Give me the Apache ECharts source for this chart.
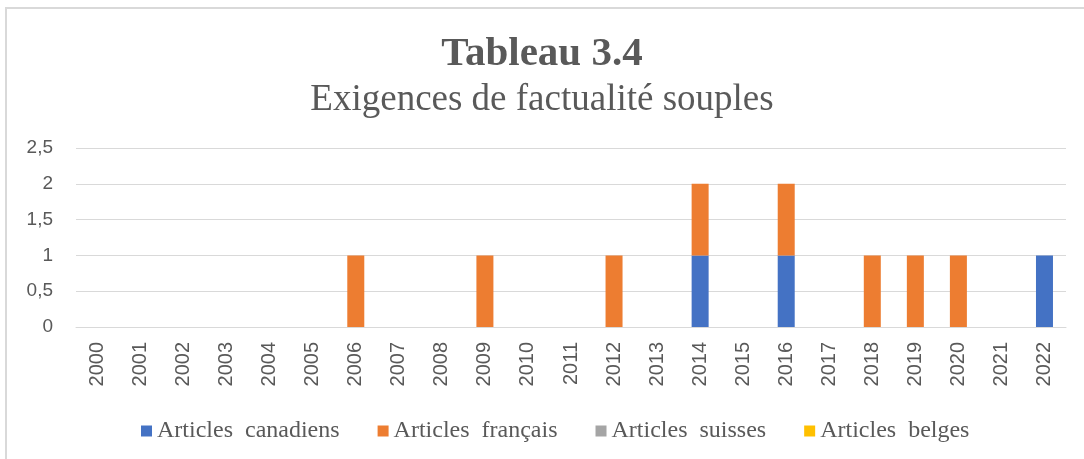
<!DOCTYPE html>
<html>
<head>
<meta charset="utf-8">
<script src="https://cdn.jsdelivr.net/npm/echarts@6/dist/echarts.min.js"></script>
<style>
  html, body { margin: 0; padding: 0; background: #fff; }
  #chart { width: 1084px; height: 459px; }
</style>
</head>
<body>
<div id="chart"></div>
<script>
var years = ['2000', '2001', '2002', '2003', '2004', '2005', '2006', '2007', '2008', '2009', '2010', '2011',
  '2012', '2013', '2014', '2015', '2016', '2017', '2018', '2019', '2020', '2021', '2022']
var canadiens = [0, 0, 0, 0, 0, 0, 0, 0, 0, 0, 0, 0, 0, 0, 1, 0, 1, 0, 0, 0, 0, 0, 1]
var francais = [0, 0, 0, 0, 0, 0, 1, 0, 0, 1, 0, 0, 1, 0, 1, 0, 1, 0, 1, 1, 1, 0, 0]
var suisses = [0, 0, 0, 0, 0, 0, 0, 0, 0, 0, 0, 0, 0, 0, 0, 0, 0, 0, 0, 0, 0, 0, 0]
var belges = [0, 0, 0, 0, 0, 0, 0, 0, 0, 0, 0, 0, 0, 0, 0, 0, 0, 0, 0, 0, 0, 0, 0]
var seriesNames = ['Articles canadiens', 'Articles français', 'Articles suisses', 'Articles belges']

var textGray = '#595959'
var lineGray = '#d9d9d9'

var chart = echarts.init(document.getElementById('chart'))

function barSeries (name, data) {
  return {
    name: name,
    type: 'bar',
    stack: 'total',
    barWidth: 17,
    data: data
  }
}

chart.setOption({
  backgroundColor: '#fff',
  animation: false,
  color: ['#4472C4', '#ED7D31', '#A5A5A5', '#FFC000'],
  graphic: [{
    type: 'rect',
    shape: { x: 6, y: 8, width: 1200, height: 600 },
    style: { fill: 'none', stroke: lineGray, lineWidth: 2 },
    silent: true
  }],
  title: [
    {
      text: 'Tableau 3.4',
      left: 'center',
      top: 34,
      padding: 0,
      textStyle: { fontFamily: 'Liberation Serif', fontWeight: 'bold', fontSize: 41, color: textGray }
    },
    {
      text: 'Exigences de factualité souples',
      left: 'center',
      top: 82,
      padding: 0,
      textStyle: { fontFamily: 'Liberation Serif', fontWeight: 'normal', fontSize: 37, color: textGray }
    }
  ],
  legend: {
    data: seriesNames,
    left: 141,
    top: 419,
    padding: 0,
    itemWidth: 11,
    itemHeight: 11,
    itemGap: 38,
    icon: 'rect',
    formatter: function (name) { return name.replace(' ', '  ') },
    textStyle: { fontFamily: 'Liberation Serif', fontSize: 24, color: textGray, padding: [0, 0, 0, 0] }
  },
  grid: {
    left: 76,
    right: 18,
    top: 148,
    bottom: 132
  },
  xAxis: {
    type: 'category',
    data: years,
    axisLine: { lineStyle: { color: lineGray, width: 1 } },
    axisTick: { show: false },
    axisLabel: {
      rotate: 90,
      interval: 0,
      margin: 15,
      fontFamily: 'Liberation Sans',
      fontSize: 20,
      color: textGray
    }
  },
  yAxis: {
    type: 'value',
    min: 0,
    max: 2.5,
    interval: 0.5,
    axisLine: { show: false },
    axisTick: { show: false },
    splitLine: { lineStyle: { color: lineGray, width: 1 } },
    axisLabel: {
      margin: 23,
      fontFamily: 'Liberation Sans',
      fontSize: 19,
      color: textGray,
      formatter: function (v) { return String(v).replace('.', ',') }
    }
  },
  series: [
    barSeries(seriesNames[0], canadiens),
    barSeries(seriesNames[1], francais),
    barSeries(seriesNames[2], suisses),
    barSeries(seriesNames[3], belges)
  ]
})
</script>
</body>
</html>
